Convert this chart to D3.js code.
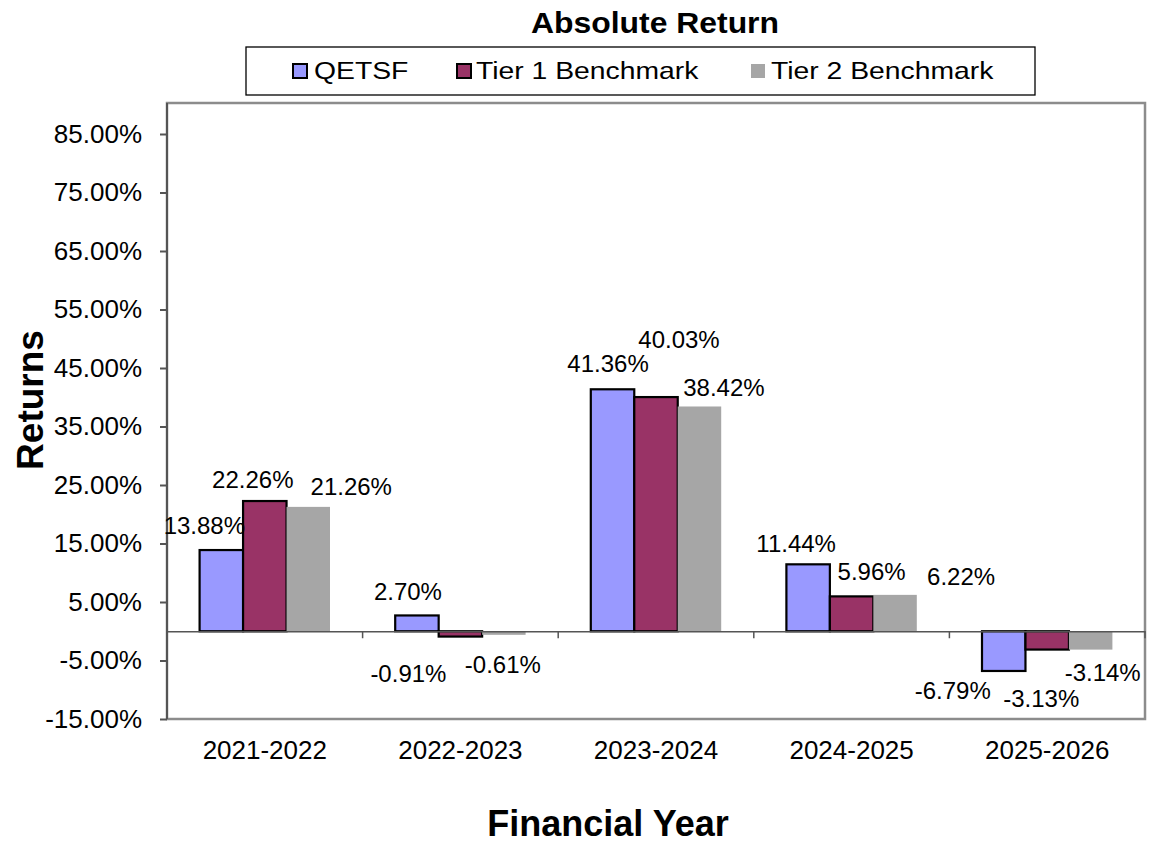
<!DOCTYPE html>
<html>
<head>
<meta charset="utf-8">
<script src="https://cdn.jsdelivr.net/npm/d3@7"></script>
<style>
  html, body { margin: 0; padding: 0; background: #fff; }
  svg { display: block; font-family: "Liberation Sans", Arial, sans-serif; }
</style>
</head>
<body>
<svg id="chart" width="1150" height="847"></svg>
<script>
// ---- data ----
const categories = ["2021-2022", "2022-2023", "2023-2024", "2024-2025", "2025-2026"];
const seriesNames = ["QETSF", "Tier 1 Benchmark", "Tier 2 Benchmark"];
const qetsf = [13.88, 2.70, 41.36, 11.44, -6.79];
const tier1 = [22.26, -0.91, 40.03, 5.96, -3.13];
const tier2 = [21.26, -0.61, 38.42, 6.22, -3.14];
const yTicks = [-15, -5, 5, 15, 25, 35, 45, 55, 65, 75, 85];

// label placement offsets (px) from bar centre / bar end, as manually placed in the original
const labelDx = [
  [-17, -9, -4.5, -12, -51],
  [-12, -52, 23, 20, -6],
  [43, -1, 24.5, 66, 12]
];
const labelDy = [
  [-16, -15.5, -17, -12, 28],
  [-13, 45, -49, -16, 57],
  [-12, 38, -10.5, -10, 31]
];

const seriesValues = [qetsf, tier1, tier2];
const fills = ["#9999FF", "#993366", "#A6A6A6"];
const strokes = ["#000", "#000", "none"];

// ---- layout ----
const svg = d3.select("#chart");
const plotLeft = 167, plotRight = 1145, plotTop = 103, plotBottom = 719;

const x0 = d3.scaleBand().domain(categories).range([plotLeft, plotRight]).padding(0);
const bw = x0.bandwidth() / 4.5;
const x1 = d3.scaleBand().domain(seriesNames).range([0.75 * bw, 3.75 * bw]).padding(0);
const y = d3.scaleLinear().domain([-15, 85]).range([plotBottom, 134]);

function stretchedText(sel, x, yy, sx) {
  return sel.attr("transform", `translate(${x},${yy}) scale(${sx},1)`);
}

// title
stretchedText(svg.append("text"), 655, 33, 1.1)
  .attr("text-anchor", "middle").attr("font-size", 29).attr("font-weight", "bold")
  .text("Absolute Return");

// legend
svg.append("rect").attr("x", 246).attr("y", 47).attr("width", 789).attr("height", 48)
  .attr("fill", "#fff").attr("stroke", "#000").attr("stroke-width", 1.3);
const legendMarkX = [293, 457, 751];
const legendTextX = [314, 476, 771];
seriesNames.forEach((name, i) => {
  svg.append("rect").attr("x", legendMarkX[i]).attr("y", 64).attr("width", 14).attr("height", 14)
    .attr("fill", fills[i]).attr("stroke", strokes[i]).attr("stroke-width", 2);
  stretchedText(svg.append("text"), legendTextX[i], 79, 1.18)
    .attr("font-size", 24).text(name);
});

// plot frame
svg.append("rect").attr("x", plotLeft).attr("y", plotTop)
  .attr("width", plotRight - plotLeft).attr("height", plotBottom - plotTop)
  .attr("fill", "#fff").attr("stroke", "#8c8c8c").attr("stroke-width", 2.5);

// y axis
const yAxis = d3.axisLeft(y).tickValues(yTicks).tickSize(7).tickPadding(18)
  .tickFormat(d => d.toFixed(2) + "%");
const gy = svg.append("g").attr("transform", `translate(${plotLeft},0)`).call(yAxis);
gy.select(".domain").attr("stroke", "#555").attr("stroke-width", 2)
  .attr("d", `M0,${plotTop}V${plotBottom}`);
gy.selectAll(".tick line").attr("stroke", "#555").attr("stroke-width", 2);
gy.selectAll(".tick text").attr("font-size", 26).attr("fill", "#000")
  .attr("font-family", "Liberation Sans, Arial, sans-serif");

// bars
seriesNames.forEach((name, s) => {
  svg.append("g").selectAll("rect").data(categories).join("rect")
    .attr("x", c => x0(c) + x1(name))
    .attr("y", (c, i) => y(Math.max(0, seriesValues[s][i])))
    .attr("width", x1.bandwidth())
    .attr("height", (c, i) => Math.abs(y(seriesValues[s][i]) - y(0)))
    .attr("fill", fills[s])
    .attr("stroke", strokes[s]).attr("stroke-width", 2.2);
});

// zero axis line with category tick marks
const xAxis = d3.axisBottom(x0).tickSize(0).tickFormat("");
const gx0 = svg.append("g").attr("transform", `translate(0,${y(0)})`).call(xAxis);
gx0.select(".domain").attr("stroke", "#555").attr("stroke-width", 1.5);
gx0.selectAll(".tick").remove();
const boundaries = categories.map(c => x0(c)).concat([plotRight]).slice(1);
svg.append("g").selectAll("line").data(boundaries).join("line")
  .attr("x1", d => d).attr("x2", d => d)
  .attr("y1", y(0)).attr("y2", y(0) + 7)
  .attr("stroke", "#555").attr("stroke-width", 1.5);

// category labels
svg.append("g").selectAll("text").data(categories).join("text")
  .attr("x", c => x0(c) + x0.bandwidth() / 2).attr("y", 759)
  .attr("text-anchor", "middle").attr("font-size", 26).text(c => c);

// data labels
seriesNames.forEach((name, s) => {
  svg.append("g").selectAll("text").data(categories).join("text")
    .attr("x", (c, i) => x0(c) + x1(name) + x1.bandwidth() / 2 + labelDx[s][i])
    .attr("y", (c, i) => y(seriesValues[s][i]) + labelDy[s][i])
    .attr("text-anchor", "middle").attr("font-size", 24)
    .text((c, i) => seriesValues[s][i].toFixed(2) + "%");
});

// axis titles
svg.append("text").attr("x", 608).attr("y", 836).attr("text-anchor", "middle")
  .attr("font-size", 36).attr("font-weight", "bold").text("Financial Year");
svg.append("text").attr("transform", "translate(43,400) rotate(-90)")
  .attr("text-anchor", "middle").attr("font-size", 37).attr("font-weight", "bold")
  .text("Returns");
</script>
</body>
</html>
